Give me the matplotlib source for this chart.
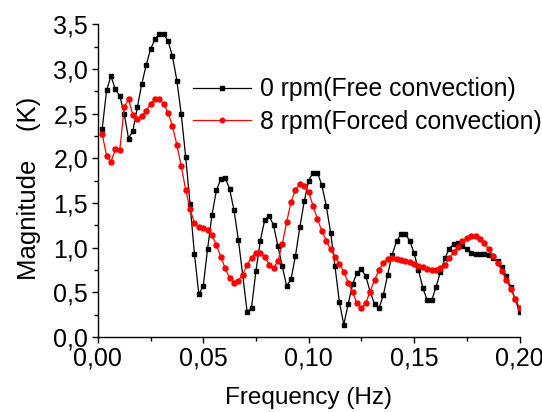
import numpy as np
import matplotlib
matplotlib.use("Agg")
import matplotlib.pyplot as plt
from matplotlib.ticker import FuncFormatter, MultipleLocator

# Frequency bins (Hz): 96 bins up to 0.2 Hz
freq_step = 0.2 / 96
freq = np.arange(1, 97) * freq_step

free_convection = [
    2.33, 2.76, 2.92, 2.77, 2.70, 2.50, 2.22, 2.31, 2.57, 2.83,
    3.04, 3.22, 3.33, 3.39, 3.39, 3.31, 3.14, 2.87, 2.49, 2.02,
    1.49, 0.93, 0.48, 0.57, 0.99, 1.37, 1.64, 1.77, 1.78, 1.66,
    1.42, 1.09, 0.69, 0.28, 0.33, 0.74, 1.08, 1.31, 1.36, 1.25,
    1.02, 0.79, 0.57, 0.65, 0.91, 1.23, 1.52, 1.75, 1.84, 1.84,
    1.70, 1.47, 1.17, 0.79, 0.39, 0.14, 0.37, 0.59, 0.72, 0.76,
    0.68, 0.51, 0.37, 0.32, 0.47, 0.70, 0.92, 1.07, 1.15, 1.15,
    1.08, 0.94, 0.75, 0.55, 0.41, 0.41, 0.56, 0.73, 0.88, 0.99,
    1.04, 1.05, 1.02, 0.98, 0.94, 0.93, 0.93, 0.93, 0.92, 0.89,
    0.85, 0.78, 0.68, 0.56, 0.43, 0.28,
]

forced_convection = [
    2.27, 2.03, 1.96, 2.10, 2.09, 2.57, 2.66, 2.48, 2.44, 2.47,
    2.53, 2.61, 2.66, 2.66, 2.61, 2.51, 2.36, 2.15, 1.91, 1.65,
    1.43, 1.28, 1.23, 1.22, 1.20, 1.14, 1.03, 0.90, 0.77, 0.66,
    0.61, 0.63, 0.70, 0.81, 0.89, 0.94, 0.94, 0.90, 0.81, 0.77,
    0.85, 1.04, 1.29, 1.51, 1.65, 1.71, 1.69, 1.62, 1.47, 1.32,
    1.19, 1.08, 0.98, 0.90, 0.82, 0.73, 0.61, 0.50, 0.38, 0.32,
    0.38, 0.51, 0.64, 0.75, 0.83, 0.87, 0.88, 0.87, 0.86, 0.85,
    0.84, 0.82, 0.80, 0.78, 0.76, 0.75, 0.75, 0.77, 0.81, 0.88,
    0.95, 1.01, 1.07, 1.11, 1.13, 1.13, 1.10, 1.05, 0.98, 0.91,
    0.83, 0.74, 0.64, 0.54, 0.43, 0.33,
]

labels = ["0 rpm(Free convection)", "8 rpm(Forced convection)"]

plt.rcParams["font.family"] = ["Liberation Sans", "DejaVu Sans"]
plt.rcParams["font.size"] = 18

W, H = 542, 412
fig = plt.figure(figsize=(W / 100, H / 100), dpi=100)
ax = fig.add_axes([97.8 / W, 1 - 337.1 / H, (519.5 - 97.8) / W, (337.1 - 24.2) / H])

ax.plot(freq, free_convection, color="black", lw=0.9, marker="s", ms=3.2,
        mec="black", mfc="black", label=labels[0])
ax.plot(freq, forced_convection, color="red", lw=0.9, marker="o", ms=3.6,
        mec="red", mfc="red", label=labels[1])

ax.set_xlim(0, 0.2)
ax.set_ylim(0, 3.5)
for s in ("top", "right"):
    ax.spines[s].set_visible(False)
for s in ("left", "bottom"):
    ax.spines[s].set_linewidth(1.0)

ax.xaxis.set_major_locator(MultipleLocator(0.05))
ax.xaxis.set_minor_locator(MultipleLocator(0.025))
ax.yaxis.set_major_locator(MultipleLocator(0.5))
ax.yaxis.set_minor_locator(MultipleLocator(0.25))
ax.xaxis.set_major_formatter(FuncFormatter(lambda v, p: f"{v:.2f}".replace(".", ",")))
ax.yaxis.set_major_formatter(FuncFormatter(lambda v, p: f"{v:.1f}".replace(".", ",")))
ax.tick_params(which="major", direction="out", length=4.5, width=1, labelsize=18, pad=2.5)
ax.tick_params(which="minor", direction="out", length=3, width=1)

ax.set_xlabel("Frequency (Hz)", fontsize=17.5, labelpad=12)
ax.set_ylabel("Magnitude    (K)", fontsize=18.5)
ax.yaxis.set_label_coords(-0.135, 0.476)

leg = ax.legend(loc="center left", bbox_to_anchor=(193 / W, 1 - 105.5 / H),
                bbox_transform=fig.transFigure, frameon=False, numpoints=1,
                handlelength=2.35, handletextpad=0.35, borderpad=0,
                borderaxespad=0, labelspacing=0.35, fontsize=17.8, markerscale=0.9)

fig.savefig("out.png", dpi=100)
